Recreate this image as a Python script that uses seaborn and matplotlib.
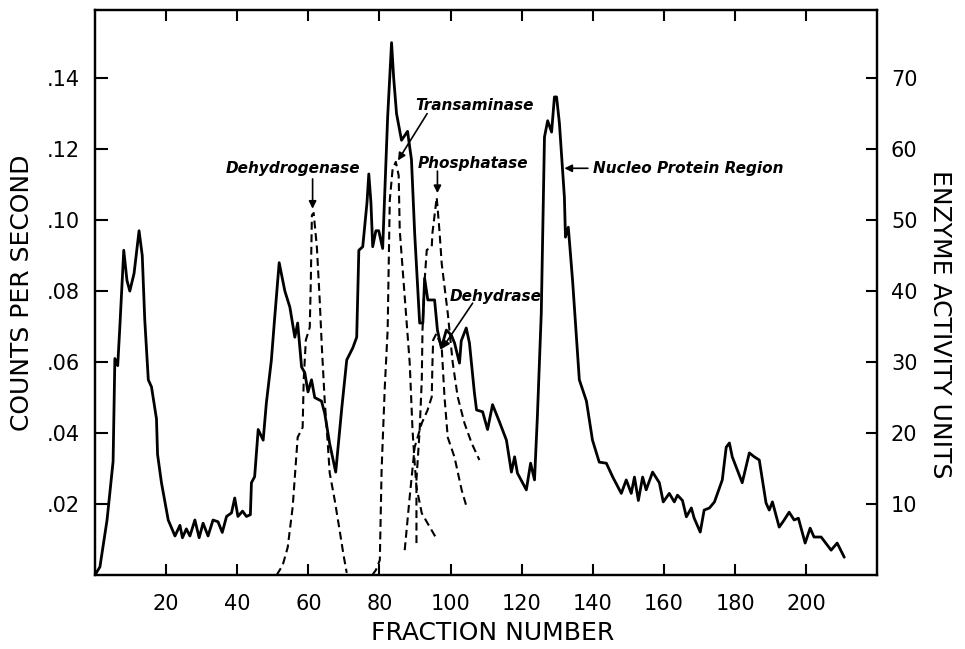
import numpy as np
import pandas as pd
import matplotlib
matplotlib.use("Agg")
import matplotlib.pyplot as plt
import seaborn as sns

# ---------------- data ----------------
fraction = [0, 1.4, 3.4, 5.1, 5.6, 6.4, 7.0, 8.1, 9.0, 9.8, 11.0, 12.4, 13.3, 14.0, 15.0,
            15.9, 17.3, 17.6, 18.7, 20.6, 22.5, 23.9, 24.6, 25.7, 26.7, 28.1, 29.3, 30.4,
            31.8, 33.2, 34.6, 35.8, 37.0, 38.4, 39.3, 40.2, 41.5, 42.6, 43.7, 44.0, 44.9,
            45.9, 47.3, 48.2, 49.6, 50.5, 51.8, 53.4, 54.8, 56.2, 57.0, 58.1, 59.0, 59.9,
            60.9, 61.8, 63.7, 64.6, 66.0, 67.7, 69.4, 70.8, 72.5, 73.6, 74.2, 75.3, 76.5,
            77.0, 77.6, 78.1, 79.0, 79.8, 80.9, 82.3, 83.4, 84.0, 84.8, 86.2, 87.9, 89.0,
            89.9, 91.3, 92.2, 92.7, 93.6, 95.5, 96.3, 97.4, 98.8, 100.2, 101.1, 102.5, 103.0,
            104.4, 105.3, 106.7, 107.3, 109.0, 110.4, 111.8, 113.8, 115.7, 117.1, 118.0,
            118.8, 121.3, 122.5, 123.6, 124.4, 125.5, 126.4, 127.3, 128.4, 129.2, 129.8,
            130.6, 132.0, 132.3, 133.1, 134.3, 136.2, 138.2, 139.9, 141.8, 143.8, 145.6,
            148.0, 149.4, 150.8, 151.7, 152.8, 154.0, 155.0, 156.8, 158.7, 159.8, 161.5,
            162.9, 163.8, 165.2, 166.3, 167.7, 168.5, 170.2, 171.3, 172.8, 174.2, 176.4,
            177.5, 178.4, 179.2, 182.0, 184.0, 185.4, 186.8, 188.7, 189.6, 190.5, 192.4,
            193.8, 195.2, 196.6, 197.8, 199.7, 201.1, 202.2, 204.2, 207.0, 208.7, 210.7]
counts = [0, .0023, .0155, .032, .061, .059, .070, .0915, .083, .080, .085, .097, .090, .072,
          .055, .053, .044, .034, .026, .0155, .011, .014, .0105, .013, .011, .0155, .0105,
          .0146, .011, .0155, .015, .012, .0165, .0175, .0217, .0165, .018, .0165, .017,
          .026, .0277, .041, .038, .0485, .0605, .072, .088, .080, .0755, .067, .071,
          .0586, .057, .0516, .055, .050, .049, .0456, .037, .029, .047, .0606, .064, .067,
          .0915, .0925, .105, .113, .105, .0925, .097, .097, .092, .129, .150, .140, .130,
          .1225, .125, .117, .0963, .071, .071, .0836, .0775, .0775, .069, .064, .069,
          .0676, .0654, .0597, .066, .0696, .0654, .0513, .0465, .046, .041, .048, .043,
          .038, .029, .0333, .0287, .024, .0315, .0268, .0445, .0738, .1234, .128, .1248,
          .1347, .1347, .1273, .1065, .0952, .098, .083, .055, .049, .038, .0318, .0315,
          .0276, .023, .0268, .023, .0276, .021, .0276, .024, .029, .026, .0206, .023,
          .0206, .0225, .021, .0164, .0189, .016, .0121, .0183, .0189, .0206, .0268, .036,
          .0372, .0333, .026, .0344, .0333, .0324, .0203, .0183, .0206, .0135, .0155,
          .0177, .0155, .016, .009, .0132, .0107, .0107, .007, .009, .005]

dehydrogenase_x = [51.1, 52.8, 54.2, 55.6, 57.0, 58.4, 58.7, 59.3, 60.4, 60.7, 61.0, 61.5,
                   62.4, 63.2, 63.8, 64.6, 65.4, 66.0, 67.4, 68.8, 69.9, 70.8]
dehydrogenase_y = [0, 1.4, 3.9, 9.6, 19.4, 20.8, 27.5, 33.1, 34.9, 41.5, 50.7, 51.0,
                   46.2, 38.7, 32.1, 24.6, 19.0, 14.4, 10.6, 6.3, 2.8, 0.3]

transaminase_x = [78.0, 79.0, 80.1, 80.6, 81.5, 82.3, 82.9, 83.7, 84.6, 85.4, 85.7, 87.1,
                  88.5, 89.3, 89.9, 90.4, 91.9, 94.1, 96.3]
transaminase_y = [0, 0.7, 2.1, 14.8, 26.5, 34.5, 52.8, 57.2, 58.2, 56.3, 48.6, 39.2,
                  29.9, 20.4, 15.8, 12.4, 8.7, 6.8, 4.9]

phosphatase_x = [90.4, 90.4, 90.4, 91.3, 91.9, 92.1, 92.7, 93.3, 94.7, 94.9, 96.1, 96.9,
                 97.5, 99.2, 100.6, 102.0, 103.9, 105.9, 108.1]
phosphatase_y = [4.5, 10.1, 13.4, 20.4, 27.5, 34.5, 41.5, 45.8, 46.2, 48.2, 53.2, 48.3,
                 43.9, 36.9, 29.9, 25.1, 21.4, 18.6, 16.2]

dehydrase_x = [87.1, 88.5, 89.9, 91.9, 93.5, 94.7, 94.9, 95.1, 96.0, 97.5, 98.3, 99.2,
               101.1, 103.1, 104.5]
dehydrase_y = [3.5, 11.0, 18.0, 21.4, 23.2, 25.1, 29.9, 33.1, 34.0, 32.1, 25.0, 19.4,
               16.6, 12.0, 9.6]

x_ticks = [20, 40, 60, 80, 100, 120, 140, 160, 180, 200]
left_ticks = [0.02, 0.04, 0.06, 0.08, 0.10, 0.12, 0.14]
left_tick_labels = [".02", ".04", ".06", ".08", ".10", ".12", ".14"]
right_ticks = [10, 20, 30, 40, 50, 60, 70]

# ---------------- figure ----------------
sns.set_style("ticks")
plt.rcParams['font.family'] = ['DejaVu Sans']
plt.rcParams.update({'text.color': 'black', 'axes.labelcolor': 'black',
                     'xtick.color': 'black', 'ytick.color': 'black',
                     'axes.edgecolor': 'black'})

fig = plt.figure(figsize=(9.65, 6.49), dpi=100)
ax = fig.add_axes([0.0984, 0.114, 0.8104, 0.8706])

sns.lineplot(x=fraction, y=counts, ax=ax, color="black", lw=2.0,
             sort=False, estimator=None)

ax2 = ax.twinx()
dash = (0, (3.8, 2.2))
for xs, ys in [(dehydrogenase_x, dehydrogenase_y), (transaminase_x, transaminase_y),
               (phosphatase_x, phosphatase_y), (dehydrase_x, dehydrase_y)]:
    sns.lineplot(x=xs, y=ys, ax=ax2, color="black", lw=1.5, linestyle=dash,
                 sort=False, estimator=None)

ax.set_xlim(0, 219.9)
ax.set_ylim(0, 0.1592)
ax2.set_ylim(0, 79.6)

ax.set_xticks(x_ticks)
ax.set_xticklabels([str(v) for v in x_ticks])
ax.set_yticks(left_ticks)
ax.set_yticklabels(left_tick_labels)
ax2.set_yticks(right_ticks)
ax2.set_yticklabels([str(v) for v in right_ticks])

ax.tick_params(axis='x', direction='in', length=8, width=1.5, labelsize=15,
               top=True, bottom=True, pad=14, colors='black')
ax.tick_params(axis='y', direction='in', length=9, width=1.5, labelsize=15,
               left=True, right=False, pad=11, colors='black')
ax2.tick_params(axis='y', direction='in', length=8, width=1.5, labelsize=15, pad=10,
                colors='black')

for a in (ax, ax2):
    for s in a.spines.values():
        s.set_linewidth(1.6)
        s.set_color("black")

ax.set_xlabel("FRACTION NUMBER", fontsize=18, color='black')
ax.xaxis.set_label_coords(0.508, -0.1027)
ax.xaxis.label.set_va('center')

ax.set_ylabel("COUNTS PER SECOND", fontsize=18, color='black')
ax.yaxis.set_label_coords(-0.0934, 0.5)
ax.yaxis.label.set_va('center')

ax2.set_ylabel("ENZYME ACTIVITY UNITS", fontsize=18, rotation=-90, color='black')
ax2.yaxis.set_label_coords(1.0806, 0.444)
ax2.yaxis.label.set_va('center')
ax2.yaxis.label.set_ha('center')

# ---------------- annotations ----------------
afont = dict(fontsize=11, fontweight='bold', style='italic', ha='center', va='center',
             color='black')
arw = dict(arrowstyle='-|>', color='black', lw=1.2, mutation_scale=11,
           shrinkA=0, shrinkB=0)

ax2.text(55.6, 57.3, "Dehydrogenase", **afont)
ax2.annotate("", xy=(61.2, 51.6), xytext=(61.2, 55.8), arrowprops=arw)

ax2.text(106.6, 66.2, "Transaminase", **afont)
ax2.annotate("", xy=(85.2, 58.4), xytext=(93.4, 65.0), arrowprops=arw)

ax2.text(106.3, 58.0, "Phosphatase", **afont)
ax2.annotate("", xy=(96.3, 53.8), xytext=(96.3, 56.9), arrowprops=arw)

ax2.text(112.6, 39.3, "Dehydrase", **afont)
ax2.annotate("", xy=(97.6, 31.9), xytext=(106.2, 38.3), arrowprops=arw)

ax2.text(166.8, 57.3, "Nucleo Protein Region", **afont)
ax2.annotate("", xy=(132.0, 57.3), xytext=(138.6, 57.3), arrowprops=arw)

fig.savefig("out.png", dpi=100, facecolor="white")
